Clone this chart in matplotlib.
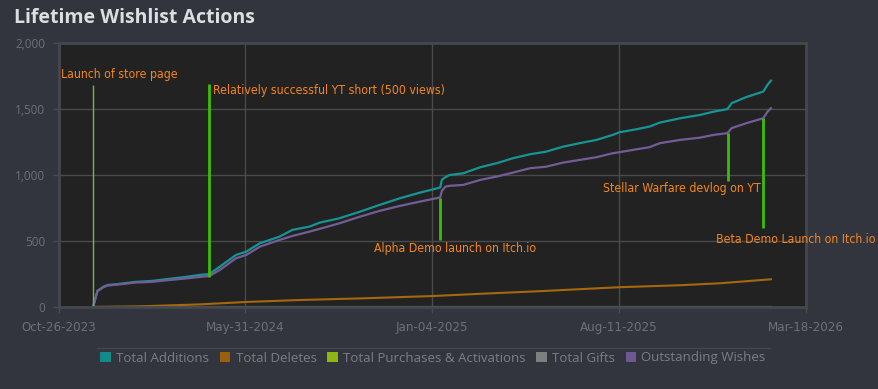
import numpy as np
import pandas as pd
import matplotlib.pyplot as plt
from matplotlib import font_manager as fm
from matplotlib.patches import Patch

# sampled from the chart
dates = ["2023-12-05", "2023-12-07", "2023-12-10", "2023-12-13", "2023-12-17", "2023-12-22",
         "2024-01-03", "2024-01-23", "2024-02-11", "2024-03-01", "2024-03-21", "2024-04-08",
         "2024-04-19", "2024-05-01", "2024-05-20", "2024-06-01", "2024-06-17", "2024-07-10",
         "2024-07-25", "2024-08-14", "2024-08-26", "2024-09-18", "2024-10-12", "2024-11-04",
         "2024-11-28", "2024-12-21", "2025-01-11", "2025-01-14", "2025-01-16", "2025-01-20",
         "2025-01-25", "2025-02-10", "2025-03-02", "2025-03-21", "2025-04-09", "2025-04-29",
         "2025-05-18", "2025-06-07", "2025-06-26", "2025-07-16", "2025-08-04", "2025-08-12",
         "2025-09-01", "2025-09-16", "2025-09-28", "2025-10-22", "2025-11-14", "2025-11-30",
         "2025-12-16", "2025-12-21", "2026-01-07", "2026-01-27", "2026-02-01", "2026-02-05"]
additions = [0, 53, 124, 136, 154, 167, 174, 190, 197, 212, 227, 243,
             250, 305, 394, 419, 483, 533, 584, 609, 639, 672, 722, 773,
             824, 866, 900, 905, 965, 983, 1000, 1013, 1059, 1089, 1127, 1157,
             1177, 1215, 1241, 1266, 1304, 1324, 1347, 1367, 1397, 1430, 1455, 1480,
             1499, 1544, 1590, 1632, 1683, 1715]
outstanding = [0, 50, 120, 132, 150, 163, 170, 185, 190, 203, 215, 228,
               235, 280, 369, 394, 457, 508, 538, 571, 592, 634, 684, 728,
               766, 798, 826, 830, 880, 912, 918, 925, 963, 988, 1018, 1051,
               1063, 1094, 1114, 1135, 1165, 1173, 1195, 1211, 1241, 1266, 1283, 1304,
               1317, 1355, 1392, 1430, 1480, 1506]

del_dates = ["2023-12-05", "2024-01-29", "2024-04-08", "2024-06-01", "2024-08-03", "2024-10-12",
             "2025-01-05", "2025-03-02", "2025-05-11", "2025-08-12", "2025-10-22", "2025-12-08",
             "2026-02-05"]
deletes = [0, 5, 20, 38, 53, 65, 83, 100, 120, 150, 165, 180, 210]

flat_dates = ["2023-12-05", "2026-02-05"]
purchases = [0, 0]
gifts = [0, 0]

ev_dates = ["2023-12-05", "2024-04-19", "2025-01-14", "2025-12-17", "2026-01-27"]
ev_top = [1683, 1693, 828, 1317, 1430]
ev_bottom = [0, 227, 508, 957, 599]
ev_labels = ["Launch of store page", "Relatively successful YT short (500 views)",
             "Alpha Demo launch on Itch.io", "Stellar Warfare devlog on YT",
             "Beta Demo Launch on Itch.io"]
lab_dates = ["2023-10-28", "2024-04-23", "2024-10-29", "2025-07-23", "2025-12-03"]
lab_vals = [1758, 1637, 440, 894, 515]

ticks = ["2023-10-26", "2024-05-31", "2025-01-04", "2025-08-11", "2026-03-18"]
tick_labels = ["Oct-26-2023", "May-31-2024", "Jan-04-2025", "Aug-11-2025", "Mar-18-2026"]

series_names = ["Total Additions", "Total Deletes", "Total Purchases & Activations",
                "Total Gifts", "Outstanding Wishes"]
colors = ["#138a8a", "#9c5f0b", "#8db812", "#7f7f7f", "#6e5892"]


# look for a narrow / condensed face for the annotations and date ticks
def pick_narrow():
    for f in fm.fontManager.ttflist:
        n = f.fname.lower()
        if ("narrow" in n or "condensed" in n) and "bold" not in n and "italic" not in n \
                and "oblique" not in n:
            return fm.FontProperties(fname=f.fname), True
    return fm.FontProperties(family="Roboto"), False


narrow, found = pick_narrow()
ann_size = 8.8 if found else 8
tick_size = 9.5 if found else 8

fig = plt.figure(figsize=(8.79, 3.89), dpi=100, facecolor="#32353d")
ax = fig.add_axes([59 / 879, 1 - 307 / 389, (806 - 59) / 879, (307 - 43) / 389])
ax.set_facecolor("#222222")

d = pd.to_datetime(dates)
ax.plot(pd.to_datetime(del_dates), deletes, color="#a5680c", lw=1.5)
ax.plot(pd.to_datetime(flat_dates), purchases, color=colors[2], lw=1.5)
ax.plot(pd.to_datetime(flat_dates), gifts, color="#858a78", lw=1.5)
ax.plot(d, additions, color="#179494", lw=1.6)
ax.plot(d, outstanding, color="#745c97", lw=1.6)

for i, (ed, t, b) in enumerate(zip(pd.to_datetime(ev_dates), ev_top, ev_bottom)):
    if i == 0:
        ax.vlines(ed, b, t, color="#6cbf3a", lw=1)
    else:
        ax.vlines(ed, b, t, color="#3fbb0a", lw=2)

for lab, ld, lv in zip(ev_labels, pd.to_datetime(lab_dates), lab_vals):
    ax.text(ld, lv, lab, color="#f5861e", fontproperties=narrow, fontsize=ann_size,
            ha="left", va="center")

ax.set_xlim(pd.Timestamp(ticks[0]), pd.Timestamp(ticks[-1]))
ax.set_ylim(0, 2000)
ax.set_xticks(pd.to_datetime(ticks))
ax.set_xticklabels(tick_labels, fontproperties=narrow, fontsize=tick_size, color="#6d7077")
ax.set_yticks([0, 500, 1000, 1500, 2000])
ax.set_yticklabels(["0", "500", "1,000", "1,500", "2,000"], family="Open Sans",
                   fontsize=8.5, color="#6d7077")
ax.tick_params(axis="both", length=4, width=1, color="#4a4c52", pad=6)
ax.grid(True, color="#4a4a4a", lw=1)
ax.set_axisbelow(True)
for s in ax.spines.values():
    s.set_color("#45474c")
    s.set_linewidth(2)

fig.text(14 / 879, 1 - 18 / 389, "Lifetime Wishlist Actions", family="Open Sans",
         fontweight="bold", fontsize=14, color="#dcdedf", ha="left", va="center")

fig.add_artist(plt.Line2D([97 / 879, 770 / 879], [1 - 348 / 389, 1 - 348 / 389],
                          color="#45474c", lw=1))
handles = [Patch(facecolor=c, edgecolor="none") for c in colors]
leg = fig.legend(handles, series_names, loc="center", bbox_to_anchor=(433 / 879, 1 - 358 / 389),
                 ncol=5, frameon=False, handlelength=0.8, handleheight=0.8,
                 handletextpad=0.4, columnspacing=0.8, prop={"family": "Open Sans", "size": 9.5})
for t in leg.get_texts():
    t.set_color("#7b7e84")

fig.savefig("out.png", dpi=100, facecolor=fig.get_facecolor())
